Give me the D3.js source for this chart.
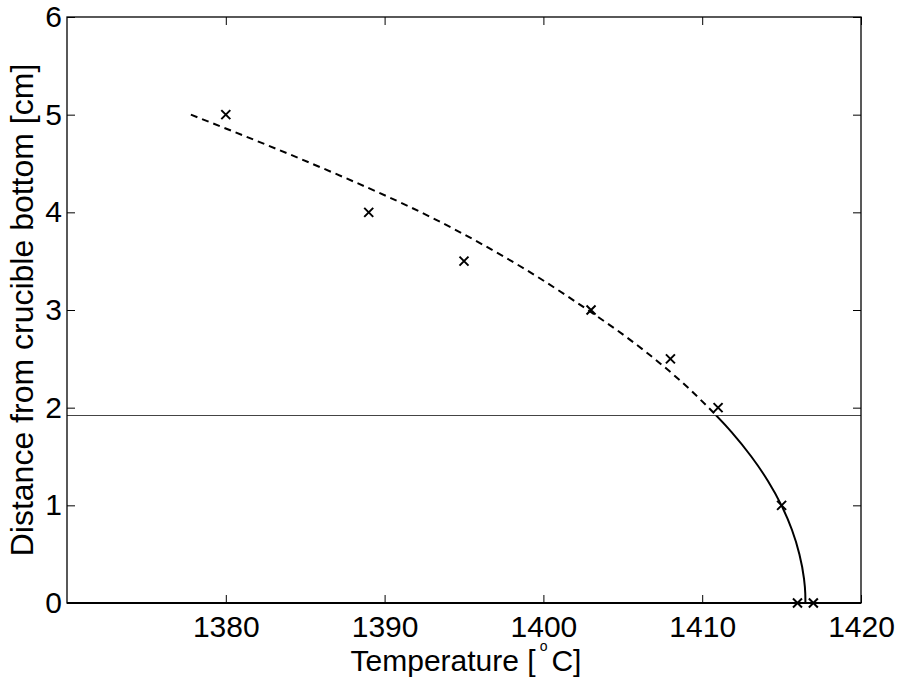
<!DOCTYPE html>
<html><head><meta charset="utf-8">
<script src="https://cdn.jsdelivr.net/npm/d3@7"></script>
<style>body{margin:0;background:#fff}text{font-family:"Liberation Sans",Arial,Helvetica,sans-serif}</style>
</head><body><svg id="c" width="909" height="685"></svg>
<script>
// measured points
const measT = [1380, 1389, 1395, 1403, 1408, 1411, 1415, 1416, 1417];
const measD = [5, 4, 3.5, 3, 2.5, 2, 1, 0, 0];
// fitted curve; solid below the horizontal line, dashed above
const fitD = [0, 0.1, 0.25, 0.5, 0.75, 1.0, 1.25, 1.5, 1.75, 2.0, 2.25, 2.5, 2.75, 3.0, 3.5, 4.0, 4.5, 5.0];
const fitT = [1416.5, 1416.49, 1416.41, 1416.12, 1415.65, 1414.99, 1414.14, 1413.09, 1411.85, 1410.4, 1408.8, 1407.0, 1405.0, 1402.8, 1398.0, 1392.3, 1385.4, 1377.8];
const hLine = 1.92;
const xTicks = [1380, 1390, 1400, 1410, 1420];
const yTicks = [0, 1, 2, 3, 4, 5, 6];

const L = 67, R = 861, T = 17, B = 603;
const svg = d3.select("#c");
const x = d3.scaleLinear().domain([1370, 1420]).range([L, R]);
const y = d3.scaleLinear().domain([0, 6]).range([B, T]);

// axes with inward ticks
const tl = 8;
svg.append("g").attr("transform", `translate(0,${B})`)
  .call(d3.axisBottom(x).tickValues(xTicks).tickSize(-tl).tickPadding(13).tickFormat(d3.format("d")))
  .call(g => { g.select(".domain").remove(); g.selectAll("text").attr("font-size", 30).attr("fill", "#000"); });
svg.append("g").attr("transform", `translate(0,${T})`)
  .call(d3.axisTop(x).tickValues(xTicks).tickSize(-tl).tickFormat(""))
  .call(g => g.select(".domain").remove());
svg.append("g").attr("transform", `translate(${L},0)`)
  .call(d3.axisLeft(y).tickValues(yTicks).tickSize(-tl).tickPadding(5).tickFormat(d3.format("d")))
  .call(g => { g.select(".domain").remove(); g.selectAll("text").attr("font-size", 30).attr("fill", "#000"); });
svg.append("g").attr("transform", `translate(${R},0)`)
  .call(d3.axisRight(y).tickValues(yTicks).tickSize(-tl).tickFormat(""))
  .call(g => g.select(".domain").remove());
svg.selectAll(".tick line").attr("stroke", "#000");

// clip regions split at the horizontal line
const defs = svg.append("defs");
defs.append("clipPath").attr("id", "above").append("rect")
  .attr("x", 0).attr("y", 0).attr("width", 909).attr("height", y(hLine));
defs.append("clipPath").attr("id", "below").append("rect")
  .attr("x", 0).attr("y", y(hLine)).attr("width", 909).attr("height", 685 - y(hLine));

// horizontal line
svg.append("line").attr("x1", L).attr("x2", R).attr("y1", y(hLine)).attr("y2", y(hLine))
  .attr("stroke", "#444").attr("stroke-width", 1.2);

const pts = fitT.map((t, i) => [t, fitD[i]]);
const line = d3.line().x(d => x(d[0])).y(d => y(d[1])).curve(d3.curveMonotoneY);
svg.append("path").datum(pts).attr("clip-path", "url(#above)")
  .attr("d", line).attr("fill", "none").attr("stroke", "#000").attr("stroke-width", 2)
  .attr("stroke-dasharray", "7,5");
svg.append("path").datum(pts).attr("clip-path", "url(#below)")
  .attr("d", line).attr("fill", "none").attr("stroke", "#000").attr("stroke-width", 2);

// x markers
const s = 4.5;
svg.append("g").selectAll("path").data(measT.map((t, i) => [t, measD[i]])).join("path")
  .attr("d", d => { const cx = x(d[0]), cy = y(d[1]);
    return `M${cx-s},${cy-s}L${cx+s},${cy+s}M${cx-s},${cy+s}L${cx+s},${cy-s}`; })
  .attr("stroke", "#000").attr("stroke-width", 2);

// box
svg.append("rect").attr("x", L).attr("y", T).attr("width", R - L).attr("height", B - T)
  .attr("fill", "none").attr("stroke", "#000").attr("stroke-width", 1.3);
svg.append("line").attr("x1", L).attr("x2", R).attr("y1", B).attr("y2", B).attr("stroke", "#000").attr("stroke-width", 2.2);

// labels
const xl = svg.append("text").attr("x", 466).attr("y", 671).attr("text-anchor", "middle").attr("font-size", 30).attr("fill", "#000");
xl.append("tspan").text("Temperature [");
xl.append("tspan").attr("dy", -20).attr("dx", 4).attr("font-size", 14).text("o");
xl.append("tspan").attr("dy", 20).attr("dx", 4).text("C]");
svg.append("text").attr("transform", `translate(33,${(T + B) / 2}) rotate(-90)`).attr("text-anchor", "middle")
  .attr("font-size", 32).attr("fill", "#000").text("Distance from crucible bottom [cm]");
</script></body></html>
